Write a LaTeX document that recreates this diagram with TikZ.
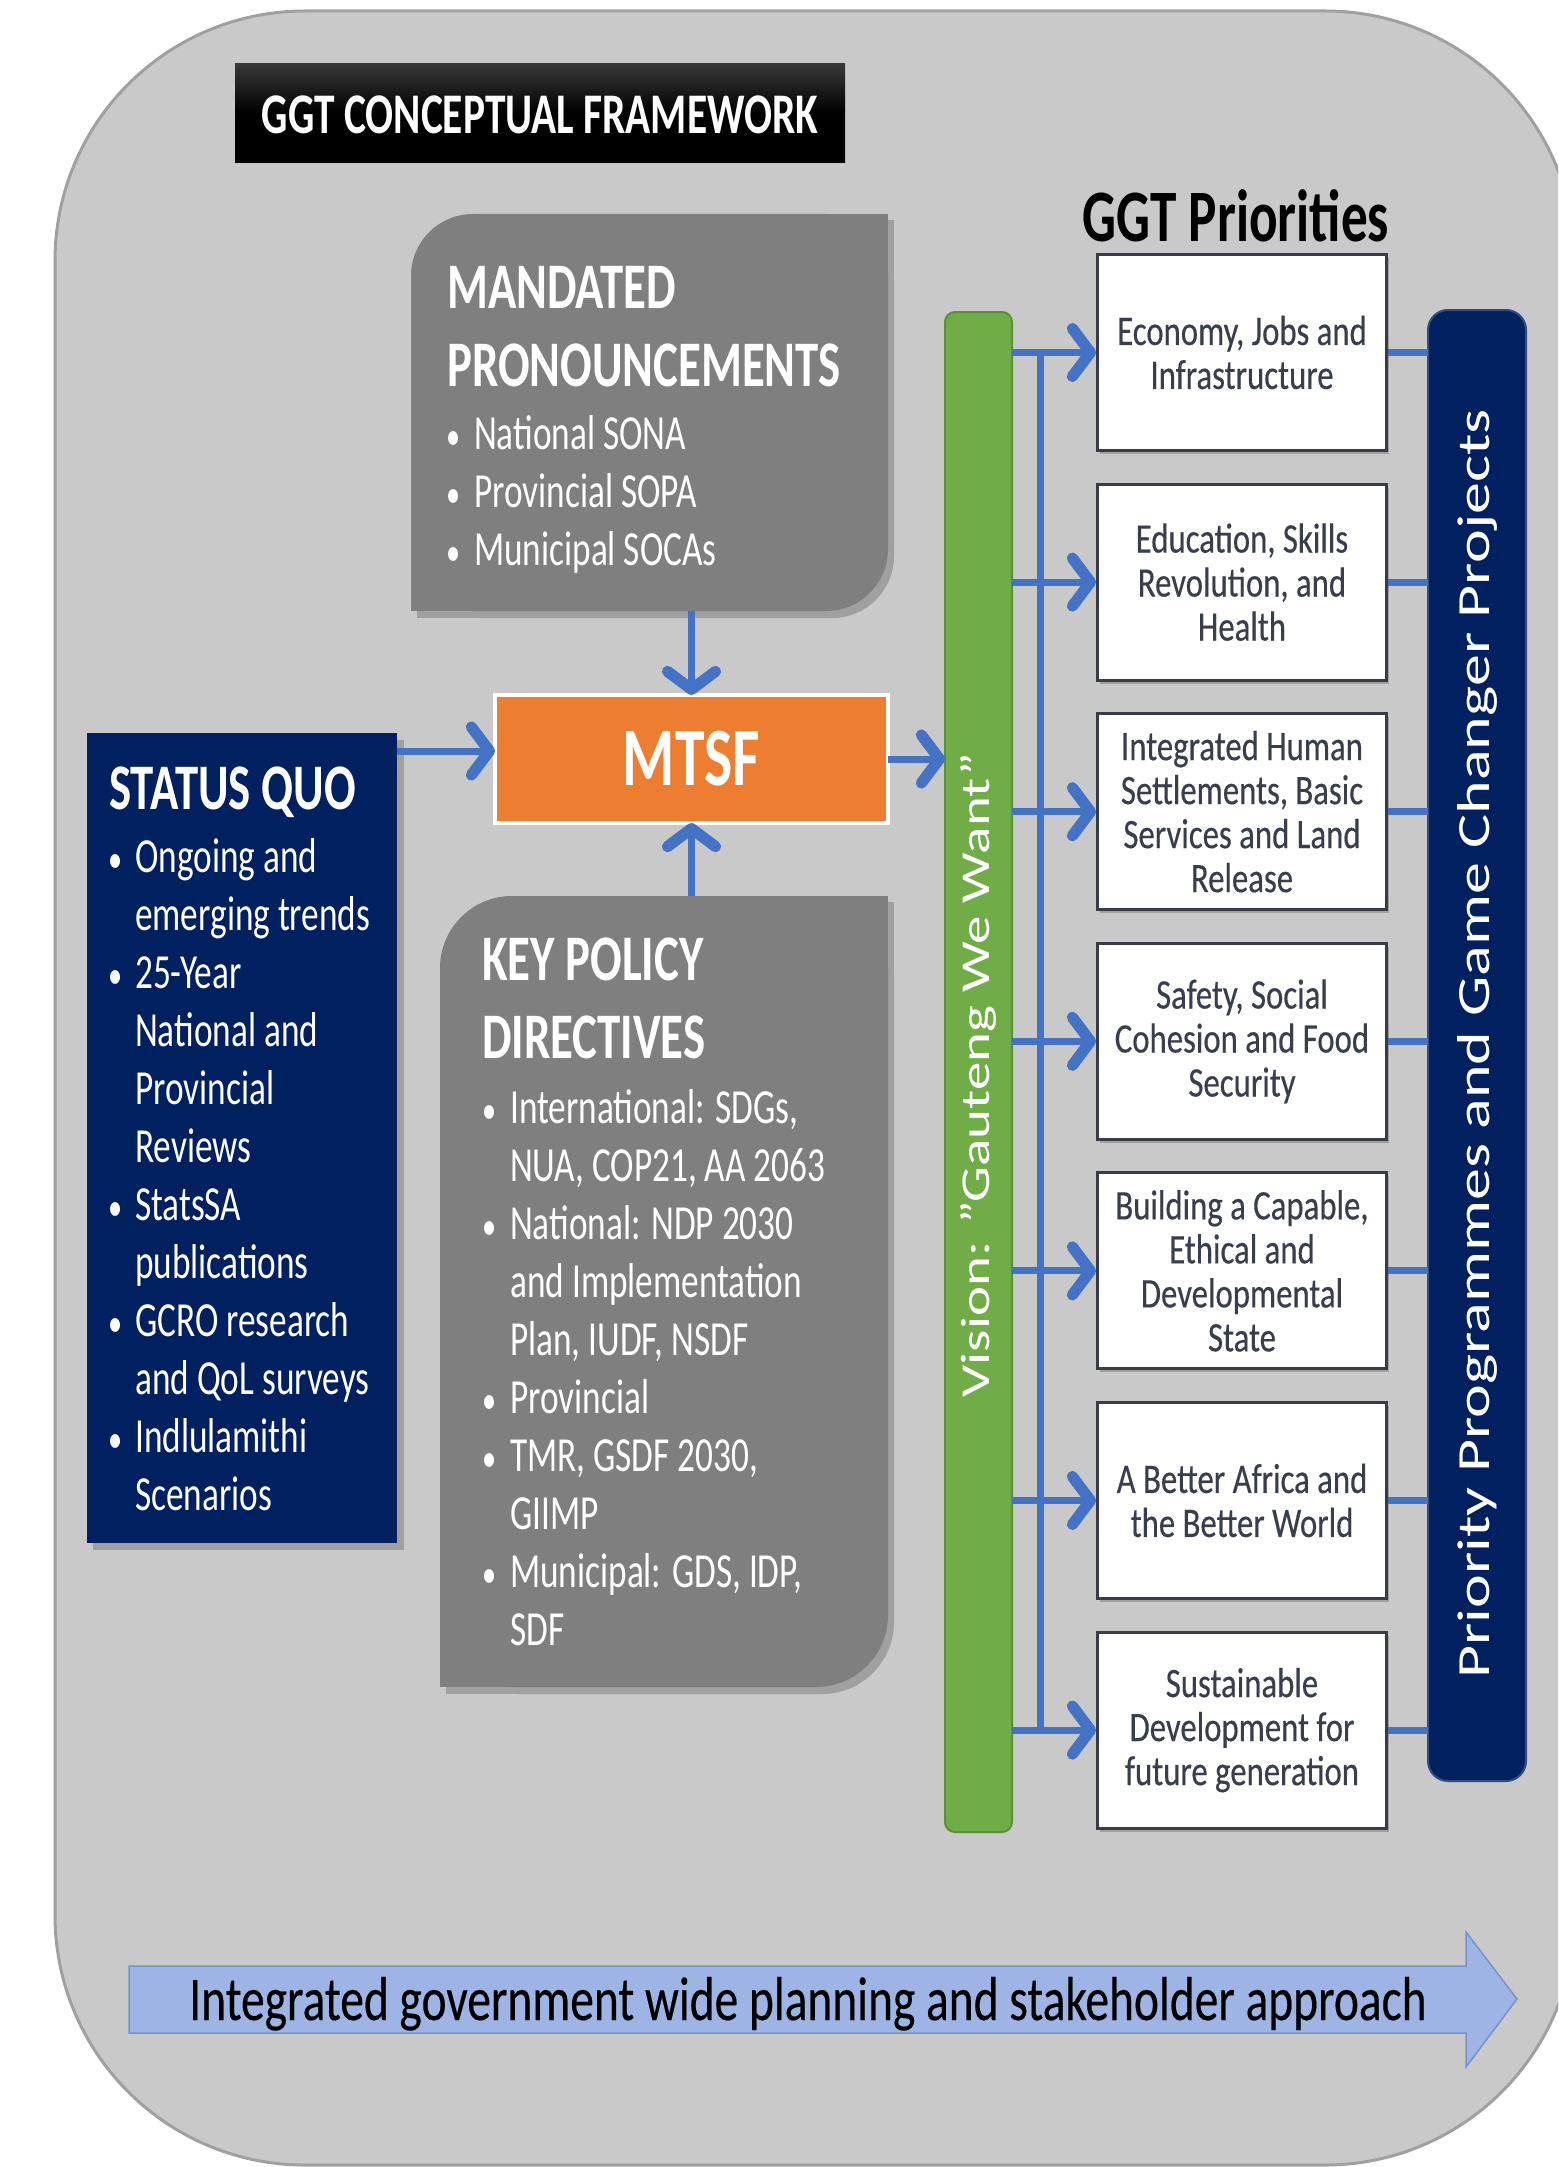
\documentclass[tikz,border=0pt]{standalone}
\usepackage{graphicx}
\usepackage{fontspec}
\setmainfont{Carlito}[FakeStretch=0.72]
\newfontfamily\plainfont{Carlito}
\newfontfamily\priofont{Carlito}[FakeStretch=0.78, FakeBold=0.35]
\newfontfamily\bandfont{Carlito}[FakeStretch=0.765, FakeBold=0.3]
\usetikzlibrary{arrows.meta}

\definecolor{bgGrey}{RGB}{201,201,201}
\definecolor{bgEdge}{RGB}{160,160,160}
\definecolor{panelGrey}{RGB}{127,127,127}
\definecolor{shadowGrey}{RGB}{160,160,160}
\definecolor{navy}{RGB}{0,32,96}
\definecolor{mtsfOrange}{RGB}{237,125,49}
\definecolor{visionGreen}{RGB}{112,173,71}
\definecolor{visionEdge}{RGB}{88,145,55}
\definecolor{linkBlue}{RGB}{68,114,196}
\definecolor{bandBlue}{RGB}{157,180,228}
\definecolor{bandEdge}{RGB}{120,146,205}
\definecolor{prioText}{RGB}{56,62,76}
\definecolor{prioEdge}{RGB}{55,60,70}

% panel with rounded top-left and bottom-right corners
\newcommand\cornerpanel[6]{%
  \fill[#1, rounded corners=#6pt] (#2,#3) rectangle (#4,#5);
  \fill[#1] (#4,#3) rectangle ({#4-#6},{#3+#6});
  \fill[#1] (#2,#5) rectangle ({#2+#6},{#5-#6});
}
\newcommand\bul{\scalebox{0.8}{•}}

\tikzset{
  frame/.style={anchor=north west, inner sep=0pt, outer sep=0pt, minimum width=#1},
  arr/.style={draw=linkBlue, line width=7pt,
    -{Straight Barb[length=18pt,width=48pt,line width=0pt 1.6,round]}},
  link/.style={draw=linkBlue, line width=7pt},
  hdr/.style={anchor=base west, text=white, inner sep=0pt, font=\fontsize{65}{76}\selectfont\bfseries},
  itm/.style={anchor=base west, text=white, inner sep=0pt, font=\fontsize{49}{58}\selectfont},
  prio/.style={anchor=north west, draw=prioEdge, line width=3pt, fill=white,
    minimum width=289pt, minimum height=196pt, inner sep=0pt, align=center,
    text=prioText, font=\priofont\fontsize{42}{44}\selectfont},
  prioshadow/.style={fill=shadowGrey},
}

\begin{document}
\begin{tikzpicture}[x=1pt,y=-1pt]
\useasboundingbox (0,0) rectangle (1558,2167);
\fill[white] (0,0) rectangle (1558,2167);

% rounded background panel
\begin{scope}
  \clip (0,0) rectangle (1558,2167);
  \filldraw[fill=bgGrey, draw=bgEdge, line width=3pt, rounded corners=250pt]
    (55,11) rectangle (1575,2165);
\end{scope}

% title bar
\node (title) [frame=610pt, minimum height=99pt, top color=black!78, bottom color=black,
  middle color=black] at (235,64) {};
\node (titletxt) [anchor=base, text=white, inner sep=0pt,
  font=\fontsize{57.5}{70}\selectfont\bfseries] at (540,134) {GGT CONCEPTUAL FRAMEWORK};

% priorities heading
\node (prioHead) [anchor=base, inner sep=0pt, font=\fontsize{74}{80}\selectfont\bfseries]
  at (1236,242) {GGT Priorities};

% ---------------- mandated pronouncements ----------------
\cornerpanel{shadowGrey}{417}{220}{894}{618}{62}
\cornerpanel{panelGrey}{411}{214}{888}{611}{62}
\node (mand) [frame=477pt, minimum height=397pt] at (411,214) {};
\node (mandH1) [hdr] at (447,308) {MANDATED};
\node (mandH2) [hdr] at (447,386) {PRONOUNCEMENTS};
\node (mandB1) [itm] at (446,449) {\bul};
\node (mandT1) [itm] at (474,449) {National SONA};
\node (mandB2) [itm] at (446,507) {\bul};
\node (mandT2) [itm] at (474,507) {Provincial SOPA};
\node (mandB3) [itm] at (446,565) {\bul};
\node (mandT3) [itm] at (474,565) {Municipal SOCAs};

% ---------------- key policy directives ----------------
\cornerpanel{shadowGrey}{446}{902}{894}{1694}{72}
\cornerpanel{panelGrey}{440}{896}{888}{1687}{72}
\node (kp) [frame=448pt, minimum height=791pt] at (440,896) {};
\node (kpH1) [hdr] at (482,980) {KEY POLICY};
\node (kpH2) [hdr] at (482,1058) {DIRECTIVES};
\node (kpB1) [itm] at (482,1123) {\bul};
\node (kpT1) [itm] at (510,1123) {International: SDGs,};
\node (kpT2) [itm] at (510,1181) {NUA, COP21, AA 2063};
\node (kpB3) [itm] at (482,1239) {\bul};
\node (kpT3) [itm] at (510,1239) {National: NDP 2030};
\node (kpT4) [itm] at (510,1297) {and Implementation};
\node (kpT5) [itm] at (510,1355) {Plan, IUDF, NSDF};
\node (kpB6) [itm] at (482,1413) {\bul};
\node (kpT6) [itm] at (510,1413) {Provincial};
\node (kpB7) [itm] at (482,1471) {\bul};
\node (kpT7) [itm] at (510,1471) {TMR, GSDF 2030,};
\node (kpT8) [itm] at (510,1529) {GIIMP};
\node (kpB9) [itm] at (482,1587) {\bul};
\node (kpT9) [itm] at (510,1587) {Municipal: GDS, IDP,};
\node (kpT10) [itm] at (510,1645) {SDF};

% ---------------- status quo ----------------
\fill[shadowGrey] (93,740) rectangle (404,1550);
\node (status) [frame=310pt, minimum height=810pt, fill=navy] at (87,733) {};
\node (sqH) [hdr] at (109,809) {STATUS QUO};
\node (sqB1) [itm] at (108,872) {\bul};
\node (sqT1) [itm] at (135,872) {Ongoing and};
\node (sqT2) [itm] at (135,930) {emerging trends};
\node (sqB3) [itm] at (108,988) {\bul};
\node (sqT3) [itm] at (135,988) {25-Year};
\node (sqT4) [itm] at (135,1046) {National and};
\node (sqT5) [itm] at (135,1104) {Provincial};
\node (sqT6) [itm] at (135,1162) {Reviews};
\node (sqB7) [itm] at (108,1220) {\bul};
\node (sqT7) [itm] at (135,1220) {StatsSA};
\node (sqT8) [itm] at (135,1278) {publications};
\node (sqB9) [itm] at (108,1336) {\bul};
\node (sqT9) [itm] at (135,1336) {GCRO research};
\node (sqT10) [itm] at (135,1394) {and QoL surveys};
\node (sqB11) [itm] at (108,1452) {\bul};
\node (sqT11) [itm] at (135,1452) {Indlulamithi};
\node (sqT12) [itm] at (135,1510) {Scenarios};

% ---------------- MTSF ----------------
\node (mtsf) [frame=393pt, minimum height=128pt, fill=mtsfOrange, draw=white, line width=4pt,
  text=white, font=\fontsize{83}{90}\selectfont\bfseries] at (495,695) {MTSF};

% ---------------- vision bar ----------------
\node (vision) [frame=67pt, minimum height=1520pt, fill=visionGreen, draw=visionEdge,
  line width=2pt, rounded corners=10pt] at (945,312) {};
\node (visionTxt) [rotate=90, text=white, inner sep=0pt] at (979,1075)
  {\scalebox{1}[0.72]{\plainfont\fontsize{57}{62}\selectfont Vision: ”Gauteng We Want”}};

% ---------------- programmes bar ----------------
\node (navybar) [frame=98pt, minimum height=1471pt, fill=navy, draw=navy!80!white,
  line width=2pt, rounded corners=20pt] at (1428,310) {};
\node (navyTxt) [rotate=90, text=white, inner sep=0pt] at (1477,1044)
  {\scalebox{1}[0.72]{\plainfont\fontsize{64}{70}\selectfont Priority Programmes and Game Changer Projects}};

% ---------------- priority boxes ----------------
\foreach \t in {253,482.6,712.2,941.8,1171.4,1401,1630.6}
  \fill[prioshadow] (1100,\t+5) rectangle (1389,\t+201);
\node (p1) [prio] at (1096,253) {Economy, Jobs and\\Infrastructure};
\node (p2) [prio] at (1096,482.6) {Education, Skills\\Revolution, and\\Health};
\node (p3) [prio] at (1096,712.2) {Integrated Human\\Settlements, Basic\\Services and Land\\Release};
\node (p4) [prio] at (1096,941.8) {Safety, Social\\Cohesion and Food\\Security};
\node (p5) [prio] at (1096,1171.4) {Building a Capable,\\Ethical and\\Developmental\\State};
\node (p6) [prio] at (1096,1401) {A Better Africa and\\the Better World};
\node (p7) [prio] at (1096,1630.6) {Sustainable\\Development for\\future generation};

% ---------------- connectors ----------------
\draw[arr] (mtsf.north |- mand.south) -- (mtsf.north);
\draw[arr] (mtsf.south |- kp.north) -- (mtsf.south);
\draw[arr] ([yshift=-18pt]status.north east) -- ([yshift=-18pt]status.north east -| mtsf.west);
\draw[arr] (mtsf.east) -- (mtsf.east -| vision.west);

\coordinate (trunkTop) at ([xshift=-56pt]p1.west);
\coordinate (trunkBot) at ([xshift=-56pt]p7.west);
\draw[link] (trunkTop) -- (trunkBot);
\foreach \i in {1,...,7} {
  \draw[arr] (vision.east |- p\i.west) -- (p\i.west);
  \draw[link] (p\i.east) -- (p\i.east -| navybar.west);
}

% ---------------- bottom band arrow ----------------
\filldraw[fill=bandBlue, draw=bandEdge, line width=1.5pt]
  (129,1966) -- (1466,1966) -- (1466,1932) -- (1517,1999) -- (1466,2067)
  -- (1466,2033) -- (129,2033) -- cycle;
\node (band) [anchor=base, inner sep=0pt, font=\bandfont\fontsize{62}{70}\selectfont]
  at (808,2020) {Integrated government wide planning and stakeholder approach};

\end{tikzpicture}
\end{document}
